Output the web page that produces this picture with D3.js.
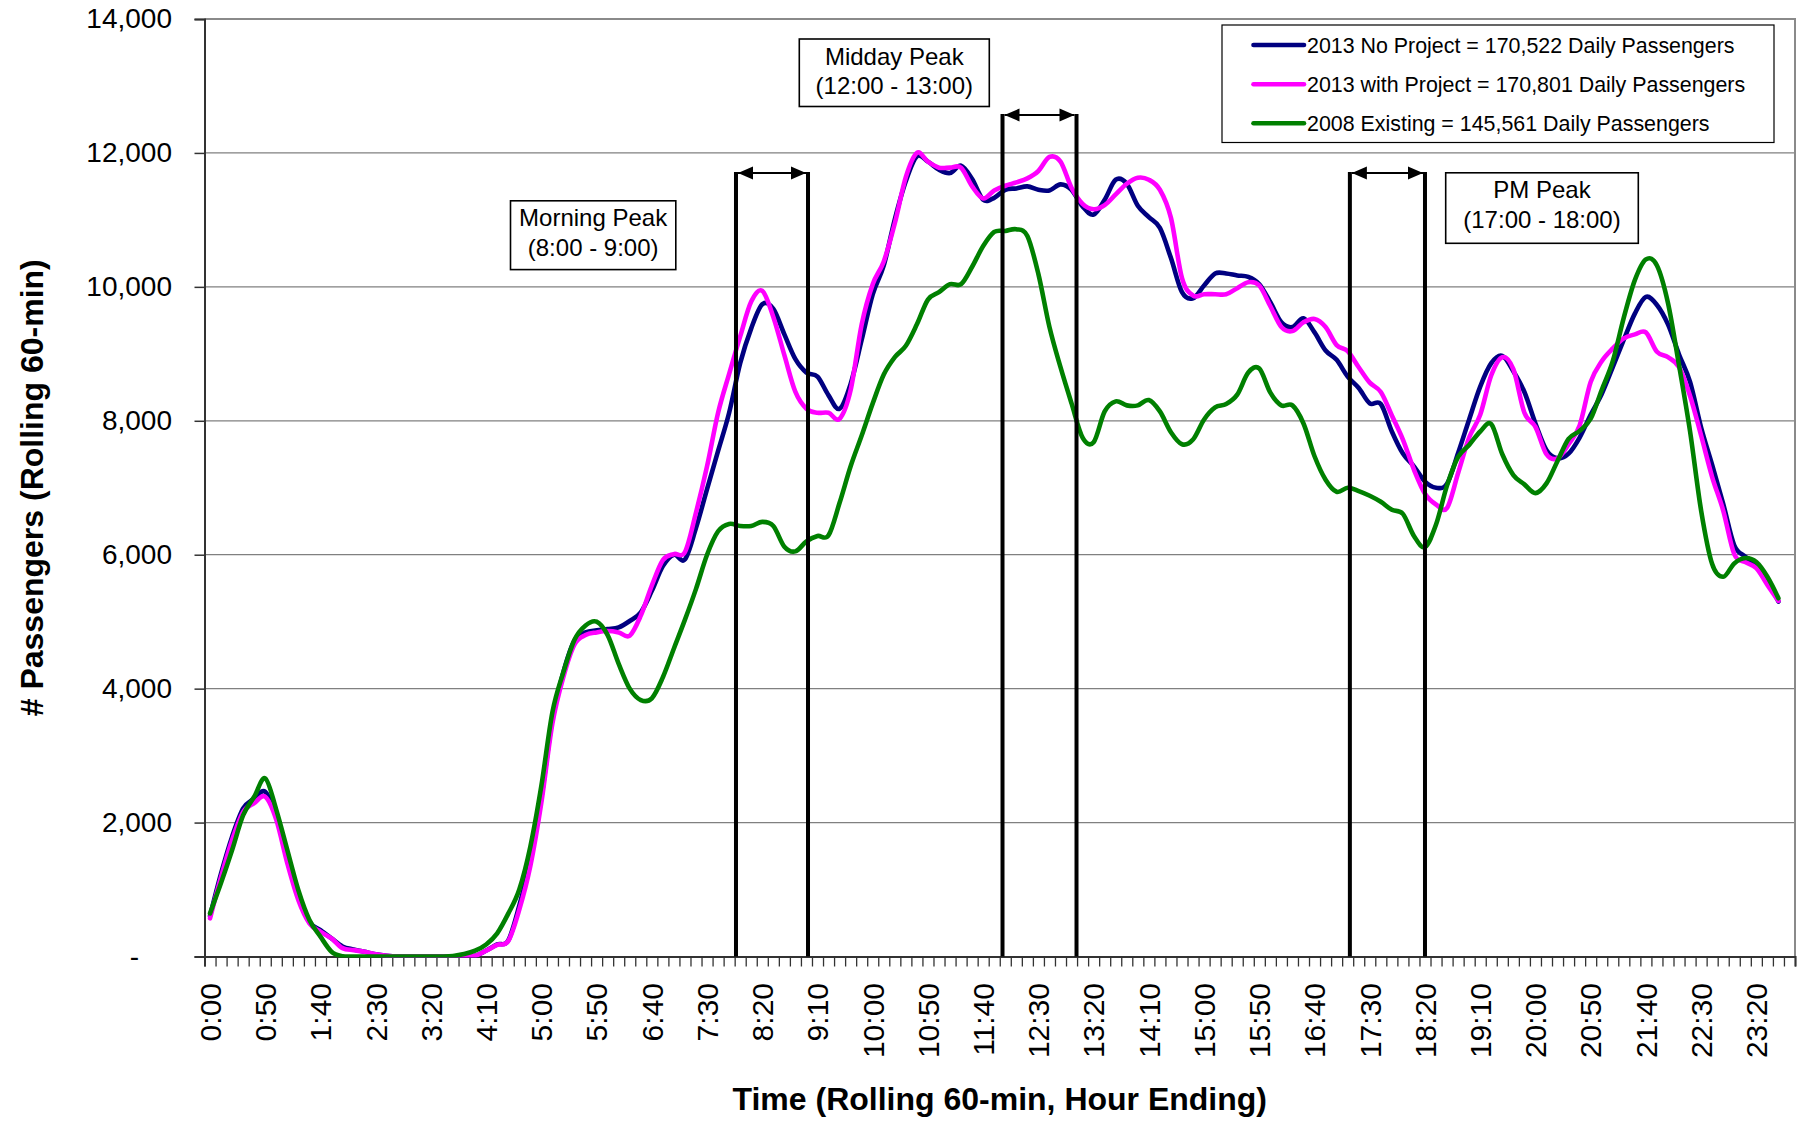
<!DOCTYPE html>
<html><head><meta charset="utf-8">
<script src="https://cdn.jsdelivr.net/npm/d3@7"></script>
<style>
html,body{margin:0;padding:0;background:#fff;}
svg{display:block;font-family:"Liberation Sans",Arial,sans-serif;}
</style></head><body>
<svg id="chart" width="1799" height="1121"></svg>
<script>
// ---------- DATA ----------
const categories = d3.range(144).map(i => Math.floor(i / 6) + ":" + String((i % 6) * 10).padStart(2, "0"));
const tickLabels = ["0:00","0:50","1:40","2:30","3:20","4:10","5:00","5:50","6:40","7:30","8:20","9:10","10:00","10:50","11:40","12:30","13:20","14:10","15:00","15:50","16:40","17:30","18:20","19:10","20:00","20:50","21:40","22:30","23:20"];
const yTicks = [0, 2000, 4000, 6000, 8000, 10000, 12000, 14000];
const seriesNames = [
  "2013 No Project = 170,522 Daily Passengers",
  "2013 with Project = 170,801 Daily Passengers",
  "2008 Existing = 145,561 Daily Passengers"
];
const noProject = [604,1240,1790,2210,2360,2460,2090,1490,940,520,395,270,150,105,70,35,12,0,0,0,0,0,0,0,10,90,180,240,760,1430,
  2370,3550,4250,4720,4840,4870,4890,4915,5010,5140,5460,5830,6000,5930,6400,6980,7550,8120,8860,9380,
  9740,9670,9290,8920,8720,8660,8380,8180,8550,9210,9890,10320,11010,11580,11950,11870,11750,11700,11810,11610,
  11300,11330,11450,11470,11500,11450,11440,11530,11450,11200,11080,11300,11600,11540,11210,11040,10880,10430,9920,9830,
  10020,10200,10200,10170,10150,10040,9770,9470,9400,9530,9320,9050,8910,8660,8490,8260,8250,7840,7510,7320,
  7090,7000,7060,7520,8020,8510,8860,8970,8740,8430,7960,7560,7440,7510,7750,8090,8400,8800,9210,9600,
  9850,9730,9440,8990,8580,7900,7340,6760,6140,5970,5830,5610,5300];
const withProject = [570,1190,1740,2160,2290,2385,2040,1390,840,495,370,270,125,95,70,35,12,0,0,0,0,0,0,0,10,87,175,230,700,1350,
  2300,3480,4180,4660,4800,4840,4860,4840,4790,5090,5540,5920,6010,6040,6630,7320,8120,8700,9260,9780,
  9940,9550,8980,8430,8180,8120,8120,8030,8460,9440,10040,10380,10950,11640,12000,11870,11780,11780,11780,11500,
  11320,11440,11510,11560,11620,11730,11940,11870,11480,11240,11160,11220,11380,11540,11630,11600,11450,11030,10130,9870,
  9890,9890,9890,9980,10070,10020,9710,9400,9340,9470,9520,9400,9130,9040,8800,8570,8430,8080,7720,7270,
  6910,6750,6700,7220,7750,8090,8680,8950,8770,8120,7910,7500,7440,7650,7930,8580,8890,9080,9230,9290,
  9320,9030,8950,8800,8370,7780,7160,6660,6010,5890,5800,5550,5310];
const existing2008 = [644,1100,1590,2110,2385,2660,2190,1590,990,545,296,72,5,0,0,0,0,0,0,0,0,0,8,37,87,180,346,640,1000,1640,
  2550,3650,4250,4730,4944,5000,4800,4370,4000,3830,3856,4170,4600,5030,5490,6000,6350,6460,6430,6430,
  6490,6430,6120,6050,6200,6280,6290,6775,7320,7780,8260,8690,8950,9120,9440,9810,9920,10040,10040,10300,
  10610,10820,10835,10860,10760,10190,9400,8800,8260,7750,7680,8140,8290,8230,8230,8310,8140,7830,7650,7720,
  8020,8200,8250,8390,8720,8780,8420,8230,8230,7960,7470,7120,6940,7000,6950,6880,6790,6670,6610,6280,
  6115,6450,7035,7460,7640,7840,7950,7500,7190,7050,6920,7065,7400,7730,7850,8030,8460,8890,9540,10100,
  10410,10320,9760,8830,7840,6660,5860,5670,5870,5950,5890,5670,5350];
const peakNames = ["Morning Peak", "Midday Peak", "PM Peak"];
const peakRanges = ["(8:00 - 9:00)", "(12:00 - 13:00)", "(17:00 - 18:00)"];
const peakBounds = [[48.12, 54.64], [72.25, 78.95], [103.7, 110.5]];   // in category units
const peakArrowLevel = [11700, 12566, 11700];                          // passengers

// ---------- LAYOUT ----------
const W = 1799, H = 1121;
const P = {left: 204.5, right: 1795, top: 19, bottom: 956.5};
const colors = ["#000080", "#FF00FF", "#008000"];
const boxes = [
  {x: 510.5, y: 200.8, w: 165.3, h: 68.8},
  {x: 799.3, y: 39, w: 190, h: 67.5},
  {x: 1445.7, y: 172.8, w: 192.6, h: 70.5}
];
const legendBox = {x: 1222, y: 25, w: 552, h: 117.5, rows: [45, 84.3, 123.3]};

const svg = d3.select("#chart");
svg.append("rect").attr("width", W).attr("height", H).attr("fill", "#fff");

const xE = d3.scaleLinear().domain([0, 144]).range([P.left, P.right]);
const xB = d3.scaleBand().domain(categories).range([P.left, P.right]);
const y = d3.scaleLinear().domain([0, 14000]).range([P.bottom, P.top]);

// gridlines
svg.append("g").selectAll("line").data(yTicks.filter(v => v > 0)).join("line")
  .attr("x1", P.left).attr("x2", P.right)
  .attr("y1", d => y(d)).attr("y2", d => y(d))
  .attr("stroke", "#808080").attr("stroke-width", 1.3);

// plot border (top/right grey)
svg.append("path")
  .attr("d", `M${P.left},${P.top}H${P.right}V${P.bottom}`)
  .attr("fill", "none").attr("stroke", "#8a8a8a").attr("stroke-width", 2);

// y axis
const yAxis = svg.append("g").attr("transform", `translate(${P.left},0)`)
  .call(d3.axisLeft(y).tickValues(yTicks).tickSize(10).tickPadding(22.5)
    .tickFormat(d => d === 0 ? "-" : d3.format(",")(d)));
yAxis.select(".domain").attr("stroke", "#333").attr("stroke-width", 2);
yAxis.selectAll(".tick line").attr("stroke", "#333").attr("stroke-width", 1.5);
yAxis.selectAll(".tick text").attr("font-size", 28).attr("font-family", "Liberation Sans, Arial, sans-serif")
  .attr("fill", "#000").attr("dx", d => d === 0 ? -33 : 0);

// x axis tick marks (category boundaries)
const xAxisT = svg.append("g").attr("transform", `translate(0,${P.bottom})`)
  .call(d3.axisBottom(xE).tickValues(d3.range(145)).tickSize(10).tickFormat(""));
xAxisT.select(".domain").attr("stroke", "#333").attr("stroke-width", 2);
xAxisT.selectAll(".tick line").attr("stroke", "#333").attr("stroke-width", 1.3);

// x axis labels
const xAxisL = svg.append("g").attr("transform", `translate(0,${P.bottom})`)
  .call(d3.axisBottom(xB).tickValues(tickLabels).tickSize(0));
xAxisL.select(".domain").remove();
xAxisL.selectAll(".tick text")
  .attr("font-size", 30).attr("font-family", "Liberation Sans, Arial, sans-serif").attr("fill", "#000")
  .attr("transform", "rotate(-90)")
  .attr("text-anchor", "end")
  .attr("x", -26.5).attr("y", 0).attr("dy", "0.36em");

// clip
svg.append("clipPath").attr("id", "clip").append("rect")
  .attr("x", P.left).attr("y", 0).attr("width", P.right - P.left).attr("height", P.bottom + 1);

// lines
const line = d3.line()
  .x((d, i) => xB(categories[i]) + xB.bandwidth() / 2)
  .y(d => y(d))
  .curve(d3.curveCatmullRom.alpha(0));
const series = [noProject, withProject, existing2008];
const gl = svg.append("g").attr("clip-path", "url(#clip)");
series.forEach((s, k) => {
  gl.append("path").datum(s).attr("d", line)
    .attr("fill", "none").attr("stroke", colors[k]).attr("stroke-width", 4.6)
    .attr("stroke-linejoin", "round").attr("stroke-linecap", "round");
});

// peak annotations
const ga = svg.append("g");
peakBounds.forEach((b, k) => {
  const x1 = xE(b[0]), x2 = xE(b[1]), yt = y(peakArrowLevel[k]);
  [x1, x2].forEach(xx => ga.append("line").attr("x1", xx).attr("x2", xx).attr("y1", yt - 1).attr("y2", P.bottom)
    .attr("stroke", "#000").attr("stroke-width", 4));
  const ah = 15, aw = 6.5;
  ga.append("line").attr("x1", x1 + 2).attr("x2", x2 - 2).attr("y1", yt).attr("y2", yt)
    .attr("stroke", "#000").attr("stroke-width", 2);
  ga.append("path").attr("d", `M${x1 + 2},${yt}L${x1 + 2 + ah},${yt - aw}L${x1 + 2 + ah},${yt + aw}Z`).attr("fill", "#000");
  ga.append("path").attr("d", `M${x2 - 2},${yt}L${x2 - 2 - ah},${yt - aw}L${x2 - 2 - ah},${yt + aw}Z`).attr("fill", "#000");
  const bx = boxes[k];
  ga.append("rect").attr("x", bx.x).attr("y", bx.y).attr("width", bx.w).attr("height", bx.h)
    .attr("fill", "#fff").attr("stroke", "#000").attr("stroke-width", 1.6);
  ga.append("text").attr("x", bx.x + bx.w / 2).attr("y", bx.y + 25.5).attr("text-anchor", "middle")
    .attr("font-size", 24).text(peakNames[k]);
  ga.append("text").attr("x", bx.x + bx.w / 2).attr("y", bx.y + 55).attr("text-anchor", "middle")
    .attr("font-size", 24).text(peakRanges[k]);
});

// legend
const lg = svg.append("g");
lg.append("rect").attr("x", legendBox.x).attr("y", legendBox.y).attr("width", legendBox.w).attr("height", legendBox.h)
  .attr("fill", "#fff").attr("stroke", "#000").attr("stroke-width", 1.2);
seriesNames.forEach((n, k) => {
  const ry = legendBox.rows[k];
  lg.append("line").attr("x1", 1253.5).attr("x2", 1304).attr("y1", ry).attr("y2", ry)
    .attr("stroke", colors[k]).attr("stroke-width", 4.6).attr("stroke-linecap", "round");
  lg.append("text").attr("x", 1307).attr("y", ry).attr("dy", "0.36em").attr("font-size", 21.4).text(n);
});

// axis titles
svg.append("text").attr("x", (P.left + P.right) / 2).attr("y", 1110).attr("text-anchor", "middle")
  .attr("font-size", 32).attr("font-weight", "bold").text("Time (Rolling 60-min, Hour Ending)");
svg.append("text").attr("transform", `translate(31,${(P.top + P.bottom) / 2}) rotate(-90)`)
  .attr("text-anchor", "middle").attr("dy", "0.36em")
  .attr("font-size", 32).attr("font-weight", "bold").text("# Passengers (Rolling 60-min)");
</script>
</body></html>
